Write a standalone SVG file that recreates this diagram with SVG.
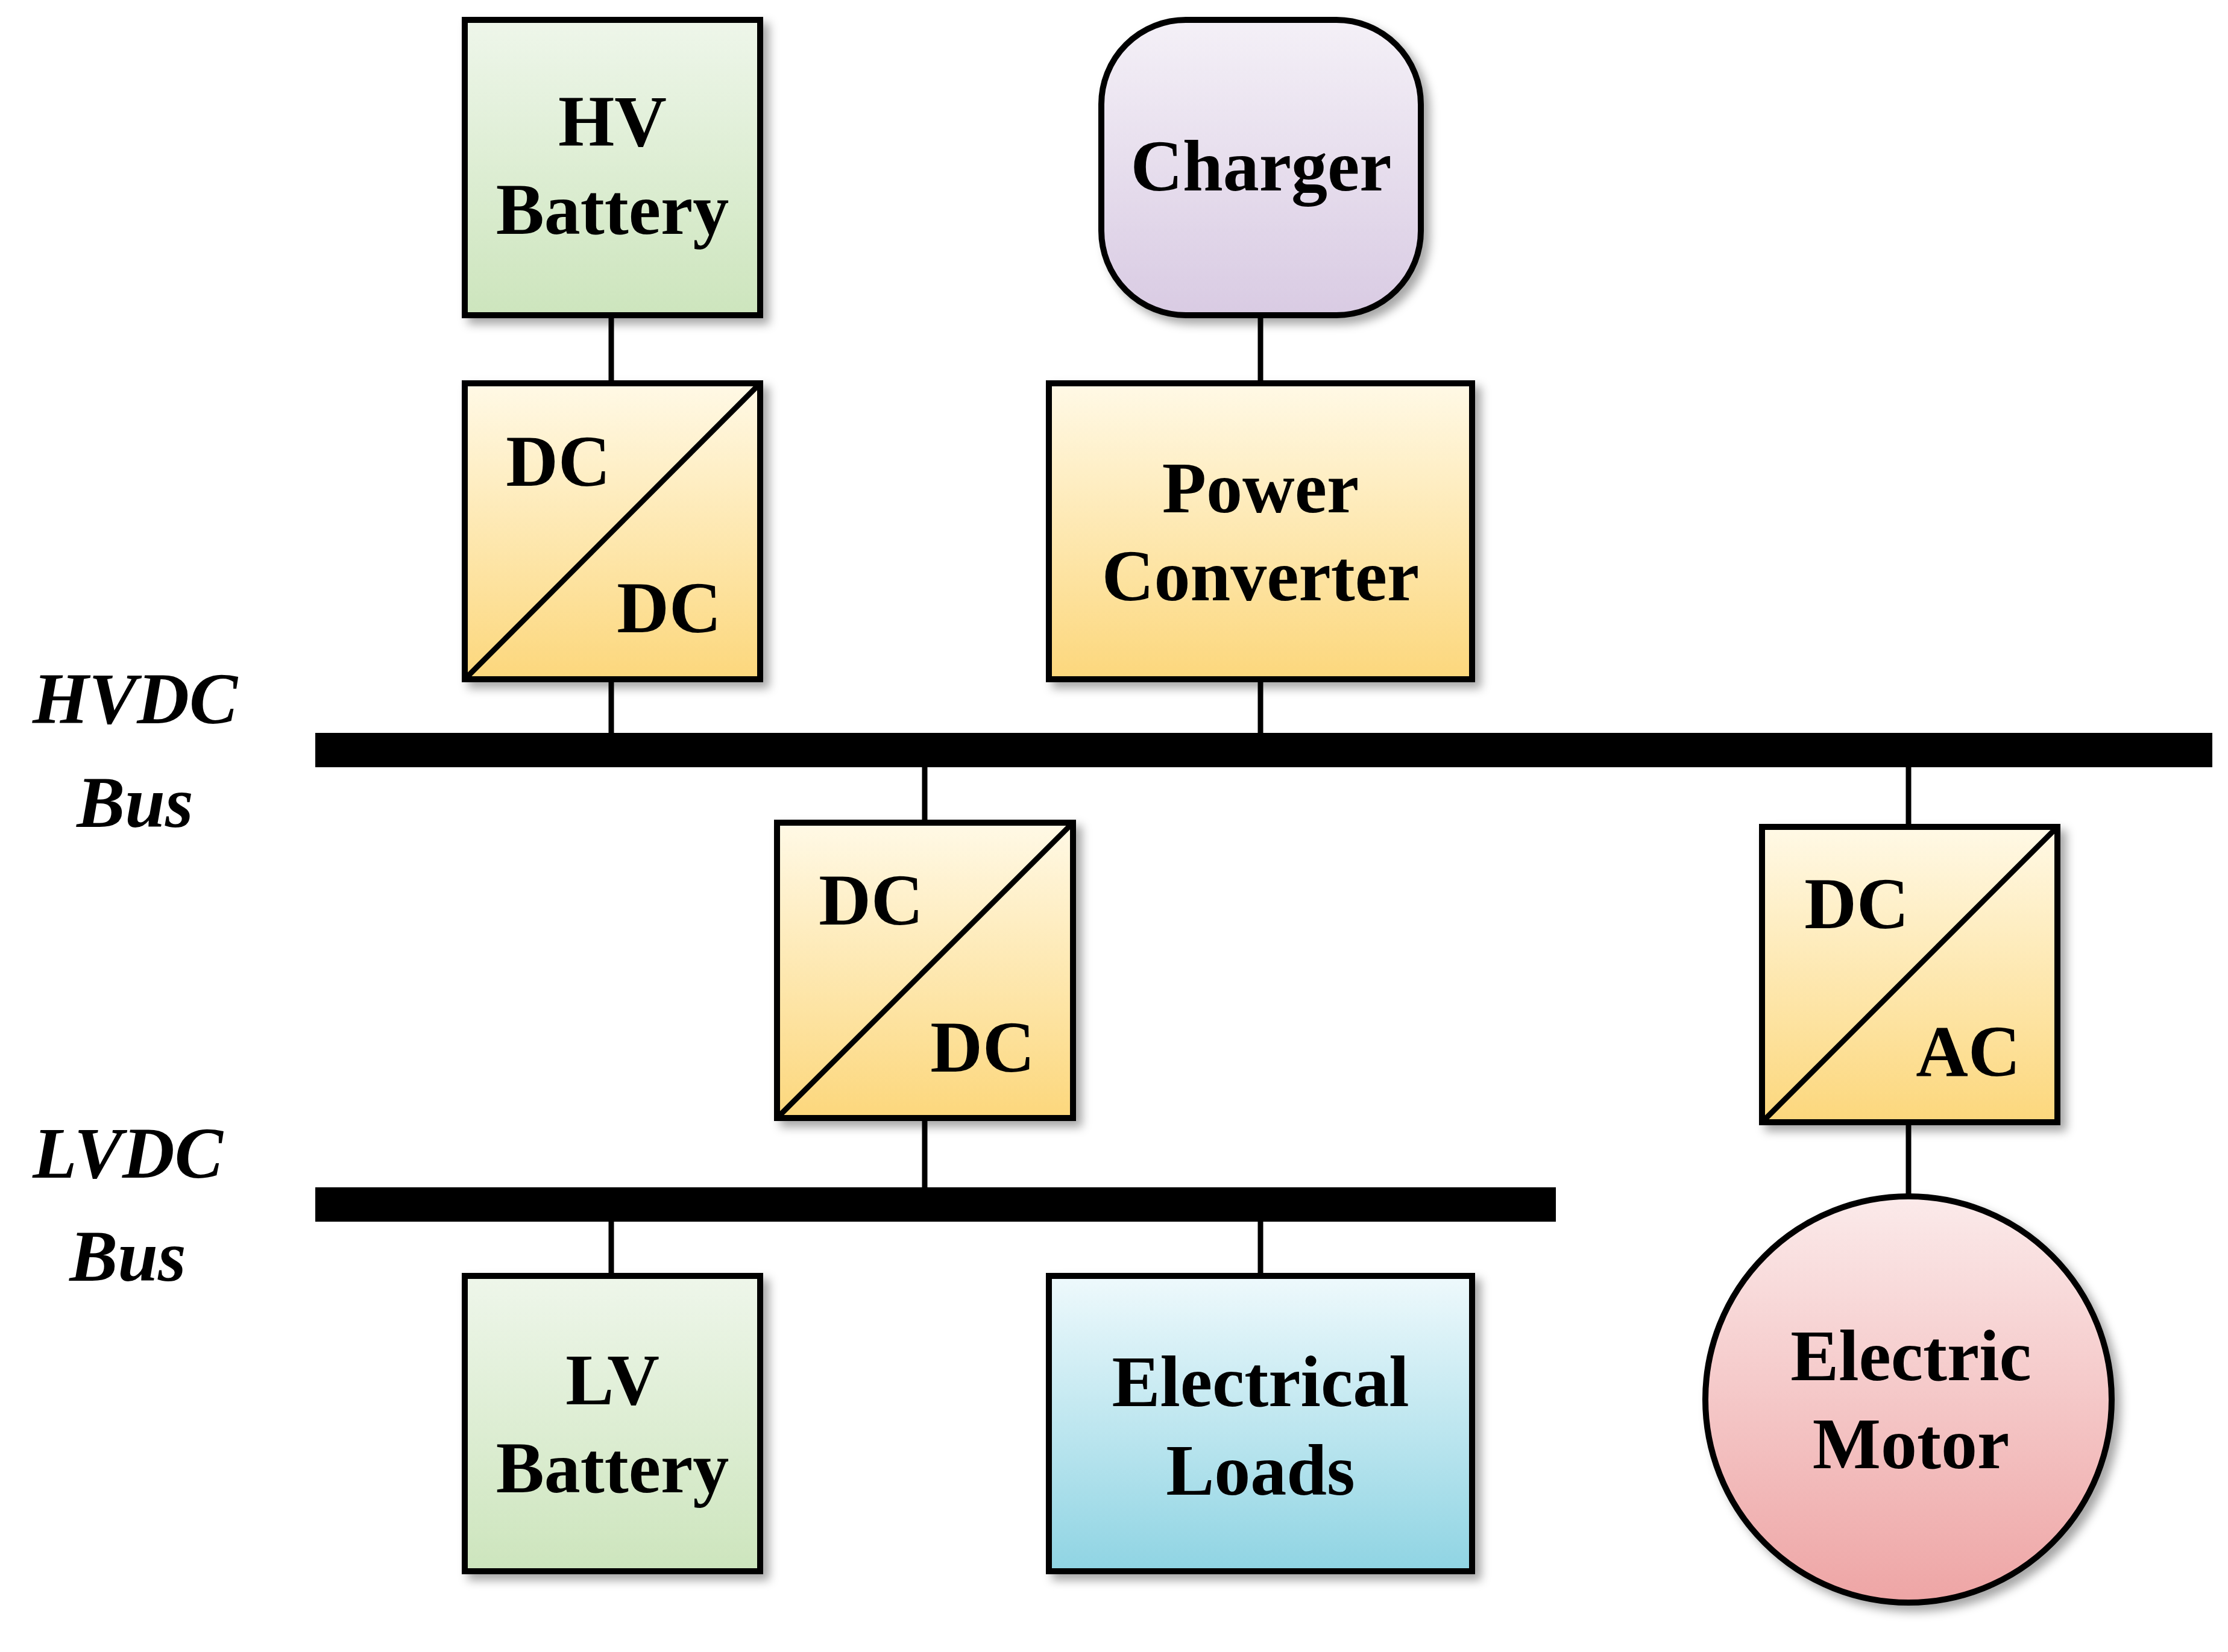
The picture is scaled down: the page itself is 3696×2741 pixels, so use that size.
<svg xmlns="http://www.w3.org/2000/svg" width="3696" height="2741" viewBox="0 0 3696 2741">
<defs>
<linearGradient id="gG" x1="0" y1="0" x2="0" y2="1"><stop offset="0" stop-color="#eef6ea"/><stop offset="1" stop-color="#cde5bd"/></linearGradient>
<linearGradient id="gP" x1="0" y1="0" x2="0" y2="1"><stop offset="0" stop-color="#f4f0f7"/><stop offset="1" stop-color="#d9cbe3"/></linearGradient>
<linearGradient id="gY" x1="0" y1="0" x2="0" y2="1"><stop offset="0" stop-color="#fff9e6"/><stop offset="1" stop-color="#fcd77c"/></linearGradient>
<linearGradient id="gB" x1="0" y1="0" x2="0" y2="1"><stop offset="0" stop-color="#eef9fc"/><stop offset="1" stop-color="#8fd4e3"/></linearGradient>
<linearGradient id="gR" x1="0" y1="0" x2="0" y2="1"><stop offset="0" stop-color="#fbeaea"/><stop offset="1" stop-color="#eea5a5"/></linearGradient>
<filter id="sh" x="-10%" y="-10%" width="130%" height="130%"><feDropShadow dx="10" dy="10" stdDeviation="8" flood-color="#000" flood-opacity="0.35"/></filter>
</defs>
<style>
.b{stroke:#000;stroke-width:10;filter:url(#sh)}
.l{stroke:#000;stroke-width:9;fill:none}
text{font-family:"Liberation Serif",serif;font-weight:bold;font-size:120px;text-anchor:middle;fill:#000}
.i{font-style:italic}
</style>
<rect width="3696" height="2741" fill="#fff"/>
<g id="connectors">
<line class="l" x1="1014" y1="523" x2="1014" y2="636"/>
<line class="l" x1="1014" y1="1127" x2="1014" y2="1220"/>
<line class="l" x1="2091" y1="523" x2="2091" y2="636"/>
<line class="l" x1="2091" y1="1127" x2="2091" y2="1220"/>
<line class="l" x1="1534" y1="1270" x2="1534" y2="1365"/>
<line class="l" x1="1534" y1="1855" x2="1534" y2="1975"/>
<line class="l" x1="3166" y1="1270" x2="3166" y2="1372"/>
<line class="l" x1="3166" y1="1862" x2="3166" y2="1985"/>
<line class="l" x1="1014" y1="2025" x2="1014" y2="2117"/>
<line class="l" x1="2091" y1="2025" x2="2091" y2="2117"/>
</g>
<g id="hvdc-bus"><rect x="523" y="1216" width="3147" height="57" fill="#000"/><text class="i" x="224" y="1200">HVDC</text><text class="i" x="224" y="1372">Bus</text></g>
<g id="lvdc-bus"><rect x="523" y="1970" width="2058" height="57" fill="#000"/><text class="i" x="212" y="1954">LVDC</text><text class="i" x="212" y="2125">Bus</text></g>
<g id="hv-battery"><rect class="b" x="771" y="33" width="490" height="490" fill="url(#gG)"/><text x="1016" y="242">HV</text><text x="1016" y="388">Battery</text></g>
<g id="charger"><rect class="b" x="1827" y="33" width="530" height="490" rx="140" fill="url(#gP)"/><text x="2092" y="316">Charger</text></g>
<g id="dcdc-top"><rect class="b" x="771" y="636" width="490" height="491" fill="url(#gY)"/><line class="l" x1="771" y1="1127" x2="1261" y2="636"/><text x="926" y="806">DC</text><text x="1110" y="1049">DC</text></g>
<g id="power-converter"><rect class="b" x="1740" y="636" width="702" height="491" fill="url(#gY)"/><text x="2091" y="850">Power</text><text x="2091" y="996">Converter</text></g>
<g id="dcdc-mid"><rect class="b" x="1289" y="1365" width="491" height="490" fill="url(#gY)"/><line class="l" x1="1289" y1="1855" x2="1780" y2="1365"/><text x="1445" y="1534">DC</text><text x="1630" y="1778">DC</text></g>
<g id="dcac"><rect class="b" x="2923" y="1372" width="490" height="490" fill="url(#gY)"/><line class="l" x1="2923" y1="1862" x2="3413" y2="1372"/><text x="3080" y="1540">DC</text><text x="3265" y="1785">AC</text></g>
<g id="lv-battery"><rect class="b" x="771" y="2117" width="490" height="490" fill="url(#gG)"/><text x="1016" y="2330">LV</text><text x="1016" y="2476">Battery</text></g>
<g id="electrical-loads"><rect class="b" x="1740" y="2117" width="702" height="490" fill="url(#gB)"/><text x="2091" y="2333">Electrical</text><text x="2091" y="2480">Loads</text></g>
<g id="electric-motor"><circle class="b" cx="3166" cy="2322" r="337" fill="url(#gR)"/><text x="3170" y="2290">Electric</text><text x="3170" y="2436">Motor</text></g>
</svg>
